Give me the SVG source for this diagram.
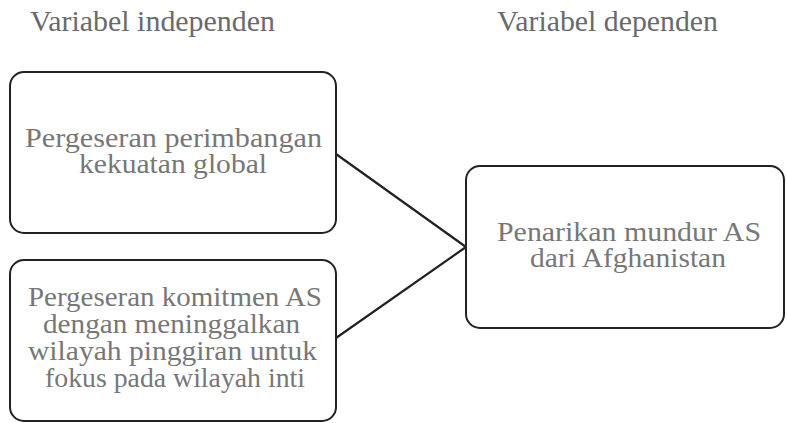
<svg xmlns="http://www.w3.org/2000/svg" width="787" height="423" viewBox="0 0 787 423">
<style>
.box{fill:#fff;stroke:#222;stroke-width:2}
.hdr{font-family:"Liberation Serif","Times New Roman",serif;font-size:29px;fill:#6a6a6a}
.lbl{font-family:"Liberation Serif","Times New Roman",serif;font-size:26.5px;fill:#777;text-anchor:middle}
.conn{stroke:#222;stroke-width:2.2;fill:none}
</style>
<rect width="787" height="423" fill="#fff"/>
<g id="header-independen"><text class="hdr" x="30" y="31" textLength="245" lengthAdjust="spacingAndGlyphs">Variabel independen</text></g>
<g id="header-dependen"><text class="hdr" x="497" y="31" textLength="221" lengthAdjust="spacingAndGlyphs">Variabel dependen</text></g>
<g id="connectors">
<line class="conn" x1="336" y1="154" x2="466" y2="247"/>
<line class="conn" x1="336" y1="338" x2="466" y2="247"/>
</g>
<g id="node-global">
<rect class="box" x="10" y="72" width="326" height="161" rx="14"/>
<text class="lbl" x="173.5" y="147" textLength="297" lengthAdjust="spacingAndGlyphs">Pergeseran perimbangan</text>
<text class="lbl" x="173" y="173" textLength="188" lengthAdjust="spacingAndGlyphs">kekuatan global</text>
</g>
<g id="node-komitmen">
<rect class="box" x="10" y="260" width="326" height="161" rx="14"/>
<text class="lbl" x="175" y="306" textLength="294" lengthAdjust="spacingAndGlyphs">Pergeseran komitmen AS</text>
<text class="lbl" x="171.5" y="333" textLength="257" lengthAdjust="spacingAndGlyphs">dengan meninggalkan</text>
<text class="lbl" x="172.5" y="360" textLength="289" lengthAdjust="spacingAndGlyphs">wilayah pinggiran untuk</text>
<text class="lbl" x="175" y="387" textLength="260" lengthAdjust="spacingAndGlyphs">fokus pada wilayah inti</text>
</g>
<g id="node-penarikan">
<rect class="box" x="466" y="166" width="318" height="162" rx="14"/>
<text class="lbl" x="629" y="241" textLength="264" lengthAdjust="spacingAndGlyphs">Penarikan mundur AS</text>
<text class="lbl" x="628" y="267" textLength="196" lengthAdjust="spacingAndGlyphs">dari Afghanistan</text>
</g>
</svg>
